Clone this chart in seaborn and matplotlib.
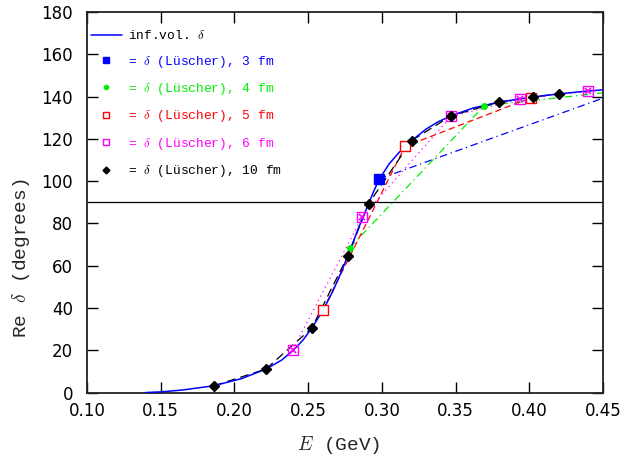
import matplotlib
matplotlib.use('Agg')
import matplotlib.pyplot as plt
from matplotlib.lines import Line2D
import seaborn as sns
import pandas as pd

# infinite volume phase shift
E_inf = [0.140, 0.150, 0.165, 0.186, 0.205, 0.2214, 0.232, 0.240, 0.2465, 0.2524,
         0.260, 0.2665, 0.2725, 0.2769, 0.284, 0.2911, 0.2945, 0.298, 0.305, 0.312,
         0.3203, 0.330, 0.338, 0.347, 0.362, 0.3795, 0.4024, 0.4204, 0.435, 0.45]
d_inf = [0.0, 0.3, 1.2, 3.2, 6.6, 11.1, 15.3, 20.0, 24.8, 30.4,
         38.8, 47.5, 57.0, 64.6, 77.5, 89.4, 95.2, 100.6, 108.2, 113.8,
         119.2, 124.6, 128.0, 130.9, 134.6, 137.4, 139.8, 141.3, 142.3, 143.2]

# Luscher points for each box size (last points of 3 fm / 4 fm lie beyond the axis)
E_3fm = [0.298, 0.48]
d_3fm = [101.0, 146.8]
E_4fm = [0.2784, 0.3693, 0.47]
d_4fm = [68.6, 135.6, 143.3]
E_5fm = [0.260, 0.3157, 0.401]
d_5fm = [39.0, 116.4, 139.4]
E_6fm = [0.2395, 0.2868, 0.347, 0.3935, 0.440]
d_6fm = [20.2, 83.2, 130.6, 138.8, 142.6]
E_10fm = [0.1862, 0.2214, 0.2524, 0.2769, 0.2911, 0.3203, 0.347, 0.3795, 0.4024, 0.4204]
d_10fm = [3.2, 11.1, 30.4, 64.6, 89.4, 119.2, 130.9, 137.4, 139.8, 141.3]

sizes = ['3 fm', '4 fm', '5 fm', '6 fm', '10 fm']
colors = ['#0000ff', '#00ee00', '#ff0000', '#ff00ff', '#000000']
styles = [(0, (6, 3, 1, 3)), (0, (6, 3, 1, 3)), (0, (5, 3)), (0, (1, 3)), (0, (7, 4))]

sets = [(E_3fm, d_3fm), (E_4fm, d_4fm), (E_5fm, d_5fm), (E_6fm, d_6fm), (E_10fm, d_10fm)]
frames = []
for s, (e, d) in zip(sizes, sets):
    frames.append(pd.DataFrame({'E': e, 'delta': d, 'L': s}))
data = pd.concat(frames, ignore_index=True)
inf = pd.DataFrame({'E': E_inf, 'delta': d_inf})

sns.set_style('ticks')
plt.rcParams['mathtext.fontset'] = 'cm'
plt.rcParams['font.family'] = ['DejaVu Sans']

fig = plt.figure(figsize=(6.24, 4.62), dpi=100)
ax = fig.add_axes([0.1394, 0.1504, 0.8269, 0.8236])

ax.axhline(90, color='black', lw=0.9, zorder=1)

for s, c, ls in zip(sizes, colors, styles):
    sub = data[data.L == s]
    sns.lineplot(data=sub, x='E', y='delta', ax=ax, color=c, lw=0.9,
                 linestyle=ls, sort=False, estimator=None, zorder=2)

sns.lineplot(data=inf, x='E', y='delta', ax=ax, color='#0000ff', lw=1.1,
             sort=False, estimator=None, zorder=3)

# markers
for s, c in zip(sizes, colors):
    sub = data[data.L == s]
    if s == '3 fm':
        ax.plot(sub.E, sub.delta, ls='none', marker='s', ms=7, color=c, zorder=5)
    elif s == '4 fm':
        ax.plot(sub.E, sub.delta, ls='none', marker='o', ms=4, color=c, zorder=5)
    elif s == '5 fm':
        ax.plot(sub.E, sub.delta, ls='none', marker='s', ms=6.5, mfc='white',
                mec=c, mew=1.0, zorder=5)
    elif s == '6 fm':
        ax.plot(sub.E, sub.delta, ls='none', marker='s', ms=6.5, mfc='none',
                mec=c, mew=1.0, zorder=5)
        ax.plot(sub.E, sub.delta, ls='none', marker='x', ms=4, mec=c,
                mew=1.2, zorder=5)
    else:
        ax.plot(sub.E, sub.delta, ls='none', marker='D', ms=5, color=c, zorder=6)
        ax.plot(sub.E, sub.delta, ls='none', marker='+', ms=7, mec=c,
                mew=1.0, zorder=6)

ax.set_xlim(0.10, 0.45)
ax.set_ylim(0, 180)
ax.set_xticks([0.10, 0.15, 0.20, 0.25, 0.30, 0.35, 0.40, 0.45])
ax.set_xticklabels(['0.10', '0.15', '0.20', '0.25', '0.30', '0.35', '0.40', '0.45'])
ax.set_yticks(range(0, 181, 20))
ax.tick_params(direction='in', length=8, width=1.0, top=True, right=True,
               labelsize=12, colors='black')
ax.tick_params(axis='y', pad=10)
ax.tick_params(axis='x', pad=7)
for sp in ax.spines.values():
    sp.set_linewidth(1.3)
    sp.set_color('#222222')

ax.set_xlabel('$E$ (GeV)', family='Liberation Mono', fontsize=14)
ax.xaxis.set_label_coords(0.488, -0.108)
ax.set_ylabel(r'Re $\delta$ (degrees)', family='Liberation Mono', fontsize=14)
ax.yaxis.set_label_coords(-0.107, 0.353)

handles = [Line2D([], [], color='#0000ff', lw=1.1)]
handles.append(Line2D([], [], ls='none', marker='s', ms=4, color=colors[0]))
handles.append(Line2D([], [], ls='none', marker='o', ms=3, color=colors[1]))
handles.append(Line2D([], [], ls='none', marker='s', ms=4, mfc='white', mec=colors[2]))
handles.append(Line2D([], [], ls='none', marker='s', ms=4, mfc='none', mec=colors[3]))
handles.append(Line2D([], [], ls='none', marker='D', ms=3.5, color=colors[4]))
labels = [r'inf.vol. $\delta$'] + [r'= $\delta$ (Lüscher), ' + s for s in sizes]
leg = ax.legend(handles, labels, loc='upper left', bbox_to_anchor=(0.0, 0.965),
                frameon=False, prop={'family': 'Liberation Mono', 'size': 9.3},
                handlelength=2.4, handletextpad=0.5, labelspacing=0.88,
                borderaxespad=0.0, borderpad=0.3,
                labelcolor=['black'] + colors)

fig.savefig('out.png', dpi=100)
